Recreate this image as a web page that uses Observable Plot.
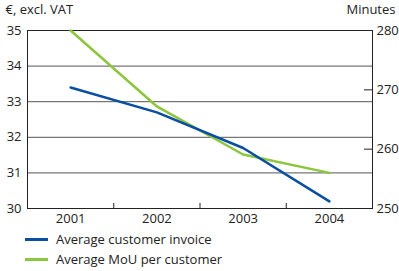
<!DOCTYPE html>
<html><head><meta charset="utf-8">
<script src="https://cdn.jsdelivr.net/npm/d3@7"></script>
<script src="https://cdn.jsdelivr.net/npm/@observablehq/plot@0.6"></script>
<style>
body{margin:0;background:#fff;font-family:"Open Sans",sans-serif;}
#legend{font-size:13px;color:#222;margin-left:25px;margin-top:1px;}
.row{display:flex;align-items:center;height:20px;}
.sw{width:23px;height:3px;margin-right:8px;}
</style></head>
<body><div id="chart"></div><div id="legend"></div>
<script>
const years = [2001, 2002, 2003, 2004];
const invoice = [33.4, 32.7, 31.7, 30.2];          // € excl. VAT (left axis)
const mou = [280, 267.2, 259.1, 256];               // minutes (right axis)
const leftTicks = [30, 31, 32, 33, 34, 35];
const rightTicks = [250, 260, 270, 280];
const seriesNames = ["Average customer invoice", "Average MoU per customer"];
const colors = ["#0a4ea2", "#8cc63e"];

const toLeft = m => 30 + (m - 250) / 6;
const toRight = v => 250 + (v - 30) * 6;
const invData = years.map((y, i) => ({year: y, v: invoice[i]}));
const mouData = years.map((y, i) => ({year: y, v: toLeft(mou[i])}));

const plot = Plot.plot({
  width: 399, height: 228,
  marginLeft: 27, marginRight: 27, marginTop: 30, marginBottom: 20,
  style: {fontFamily: "Open Sans", fontSize: "13px", color: "#222"},
  x: {domain: [2000.5, 2004.5]},
  y: {domain: [30, 35]},
  marks: [
    Plot.ruleY([31, 32, 33, 34], {stroke: "#555", strokeWidth: 1}),
    Plot.frame({stroke: "#222", strokeWidth: 1}),
    Plot.axisY({ticks: leftTicks, tickSize: 0, tickPadding: 6, tickFormat: d => String(d), label: null, fontSize: 13}),
    Plot.axisY({anchor: "right", ticks: rightTicks.map(toLeft), tickSize: -9, tickPadding: 13, tickFormat: d => String(Math.round(toRight(d))), label: null, fontSize: 13}),
    Plot.axisX({ticks: years, tickSize: 0, tickPadding: 5, tickFormat: d => String(d), label: null, fontSize: 13}),
    Plot.axisX({ticks: [2001.5, 2002.5, 2003.5], tickSize: -5, tickFormat: () => "", label: null}),
    Plot.line(mouData, {x: "year", y: "v", stroke: colors[1], strokeWidth: 2.5}),
    Plot.line(invData, {x: "year", y: "v", stroke: colors[0], strokeWidth: 2.5}),
    Plot.text(["€, excl. VAT"], {frameAnchor: "top-left", dx: -22, dy: -26, text: d => d, textAnchor: "start", fontSize: 13}),
    Plot.text(["Minutes"], {frameAnchor: "top-right", dx: 23, dy: -26, text: d => d, textAnchor: "end", fontSize: 13})
  ]
});
document.getElementById("chart").appendChild(plot);
const lg = document.getElementById("legend");
seriesNames.forEach((n, i) => {
  const r = document.createElement("div"); r.className = "row";
  r.innerHTML = `<div class="sw" style="background:${colors[i]}"></div><span>${n}</span>`;
  lg.appendChild(r);
});
</script></body></html>
